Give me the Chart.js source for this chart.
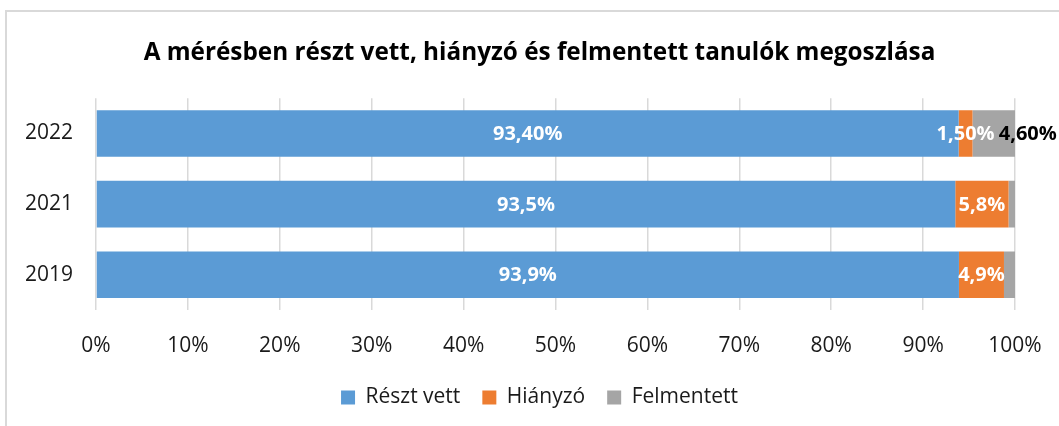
<!DOCTYPE html>
<html>
<head>
<meta charset="utf-8">
<script src="https://cdn.jsdelivr.net/npm/chart.js@4/dist/chart.umd.min.js"></script>
<style>
  html, body { margin: 0; padding: 0; background: #fff; }
  #wrap { position: relative; width: 1059px; height: 426px; overflow: hidden; }
  #frame { position: absolute; left: 5px; top: 10px; width: 1100px; height: 500px;
           border-left: 2px solid #d9d9d9; border-top: 2px solid #d9d9d9; }
  canvas { position: absolute; left: 0; top: 0; }
</style>
</head>
<body>
<div id="wrap">
  <div id="frame"></div>
  <canvas id="chart" width="1059" height="426"></canvas>
</div>
<script>
const years = ['2022', '2021', '2019'];
const seriesNames = ['Részt vett', 'Hiányzó', 'Felmentett'];
const reszt = [93.4, 93.5, 93.9];
const hianyzo = [1.5, 5.8, 4.9];
const felmentett = [4.6, 0.7, 1.2];
const decimals = [2, 1, 1];
const shown = [
  [true, true, true],
  [true, true, true],
  [true, false, false]
];
const tickValues = [0, 10, 20, 30, 40, 50, 60, 70, 80, 90, 100];

const colors = ['#5B9BD5', '#ED7D31', '#A5A5A5'];
const raw = [reszt, hianyzo, felmentett];
// 100% stacked, like the spreadsheet: each row is scaled to its total
const totals = years.map((_, i) => raw.reduce((s, arr) => s + arr[i], 0));

const FONT = '"Open Sans", "Noto Sans", sans-serif';

const labelPlugin = {
  id: 'segLabels',
  afterDatasetsDraw(chart) {
    const { ctx } = chart;
    ctx.save();
    ctx.font = 'bold 20px ' + FONT;
    ctx.textAlign = 'center';
    ctx.textBaseline = 'middle';
    chart.data.datasets.forEach((ds, di) => {
      const meta = chart.getDatasetMeta(di);
      meta.data.forEach((bar, i) => {
        if (!shown[di][i]) return;
        const txt = raw[di][i].toFixed(decimals[i]).replace('.', ',') + '%';
        let x = (bar.x + bar.base) / 2;
        let color = '#ffffff';
        if (di === 2 && i === 0) { x += 34; color = '#000000'; }
        ctx.fillStyle = color;
        ctx.fillText(txt, x, bar.y + 1);
      });
    });
    ctx.restore();
  }
};

new Chart(document.getElementById('chart'), {
  type: 'bar',
  data: {
    labels: years,
    datasets: raw.map((arr, di) => ({
      label: seriesNames[di],
      data: arr.map((v, i) => v / totals[i] * 100),
      backgroundColor: colors[di],
      borderWidth: 0,
      categoryPercentage: 1,
      barPercentage: 0.66
    }))
  },
  options: {
    indexAxis: 'y',
    responsive: false,
    animation: false,
    devicePixelRatio: 1,
    layout: { padding: { left: 64, right: 44, top: 0, bottom: 8 } },
    plugins: {
      title: {
        display: true,
        text: 'A mérésben részt vett, hiányzó és felmentett tanulók megoszlása',
        color: '#000',
        font: { family: FONT, size: 24.3, weight: 'bold' },
        padding: { top: 38, bottom: 31 }
      },
      legend: {
        position: 'bottom',
        labels: {
          color: '#1a1a1a',
          font: { family: FONT, size: 21 },
          boxWidth: 14,
          boxHeight: 14,
          padding: 22
        }
      },
      tooltip: { enabled: false }
    },
    scales: {
      x: {
        stacked: true,
        min: 0,
        max: 100,
        afterBuildTicks: s => { s.ticks = tickValues.map(v => ({ value: v })); },
        afterFit: s => { s.height = 55; s.paddingLeft = 0; s.paddingRight = 0; },
        ticks: {
          color: '#1a1a1a',
          font: { family: FONT, size: 21 },
          padding: 23,
          callback: v => v + '%'
        },
        grid: { color: '#d9d9d9', lineWidth: 1.5, drawTicks: false },
        border: { display: false }
      },
      y: {
        stacked: true,
        afterFit: s => { s.width = 32; },
        ticks: {
          mirror: true,
          color: '#1a1a1a',
          font: { family: FONT, size: 21 },
          padding: -71
        },
        grid: { display: false },
        border: { display: false }
      }
    }
  },
  plugins: [labelPlugin]
});
</script>
</body>
</html>
